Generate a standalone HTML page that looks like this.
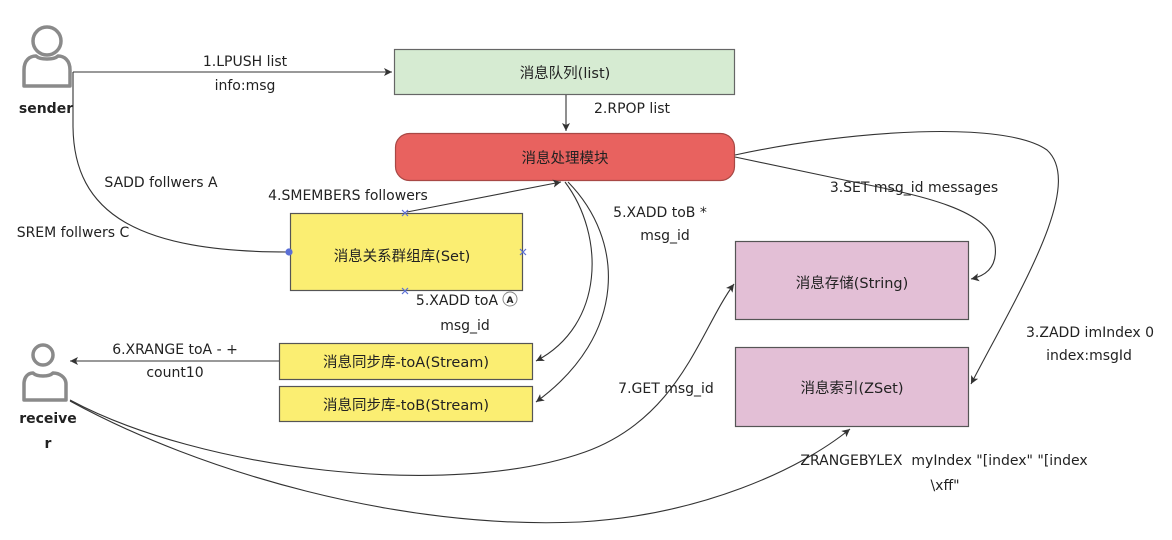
<!DOCTYPE html>
<html><head><meta charset="utf-8"><style>
html,body{margin:0;padding:0;background:#fff;}
svg{display:block;}
text{font-family:"DejaVu Sans","Noto Sans CJK SC",sans-serif;font-size:14px;fill:#222;}
.c{text-anchor:middle;}
.b{font-size:14.5px;}
</style></head><body>
<svg width="1172" height="540" viewBox="0 0 1172 540" xmlns="http://www.w3.org/2000/svg">
<defs>
<marker id="ar" markerWidth="10" markerHeight="10" refX="8" refY="4" orient="auto" markerUnits="userSpaceOnUse">
<path d="M0,0 L8,4 L0,8 L2,4 Z" fill="#333"/>
</marker>
</defs>
<rect x="0" y="0" width="1172" height="540" fill="#fff"/>

<!-- sender icon -->
<circle cx="47" cy="41" r="14" fill="#fff" stroke="#8a8a8a" stroke-width="3.5"/>
<path d="M24,86 L24,70 C24,60 30,56 36,56 C40,60 54,60 58,56 C64,56 70,60 70,70 L70,86 Z" fill="#fff" stroke="#8a8a8a" stroke-width="3.5" stroke-linejoin="round"/>
<text x="46" y="113" class="c" style="font-weight:bold;font-size:14px">sender</text>

<!-- receiver icon -->
<circle cx="43" cy="355" r="10" fill="#fff" stroke="#8a8a8a" stroke-width="3.5"/>
<path d="M24,400 L24,384 C24,377 28,373 33,373 C37,377 49,377 53,373 C59,373 66,377 66,384 L66,400 Z" fill="#fff" stroke="#8a8a8a" stroke-width="3.5" stroke-linejoin="round"/>
<text x="48" y="423" class="c" style="font-weight:bold;font-size:14px">receive</text>
<text x="48" y="448" class="c" style="font-weight:bold;font-size:14px">r</text>

<!-- boxes -->
<rect x="394.5" y="49.5" width="340" height="45" fill="#d6ebd2" stroke="#666" stroke-width="1.2"/>
<text x="565" y="78" class="c b">消息队列(list)</text>

<rect x="395.5" y="133.5" width="339" height="47" rx="14" ry="14" fill="#e8625f" stroke="#a84845" stroke-width="1.2"/>
<text x="565" y="163" class="c b">消息处理模块</text>

<rect x="290.5" y="213.5" width="232" height="77" fill="#fbee72" stroke="#555" stroke-width="1.2"/>
<text x="402" y="261" class="c b">消息关系群组库(Set)</text>

<rect x="279.5" y="343.5" width="253" height="36" fill="#fbee72" stroke="#555" stroke-width="1.2"/>
<text x="406" y="367" class="c b">消息同步库-toA(Stream)</text>
<rect x="279.5" y="386.5" width="253" height="35" fill="#fbee72" stroke="#555" stroke-width="1.2"/>
<text x="406" y="410" class="c b">消息同步库-toB(Stream)</text>

<rect x="735.5" y="241.5" width="233" height="78" fill="#e3bfd6" stroke="#555" stroke-width="1.2"/>
<text x="852" y="288" class="c b">消息存储(String)</text>
<rect x="735.5" y="347.5" width="233" height="79" fill="#e3bfd6" stroke="#555" stroke-width="1.2"/>
<text x="852" y="393" class="c b">消息索引(ZSet)</text>

<!-- connectors -->
<g fill="none" stroke="#333" stroke-width="1.1">
<path d="M73,72 L392,72" marker-end="url(#ar)"/>
<path d="M566,95 L566,131" marker-end="url(#ar)"/>
<path d="M73,72 L73,125 C73,215 140,252 288,252"/>
<path d="M407,212 L561,182" marker-end="url(#ar)"/>
<path d="M565,182 C605,235 605,325 536,361" marker-end="url(#ar)"/>
<path d="M568,182 C625,240 628,335 536,402" marker-end="url(#ar)"/>
<path d="M735,157 L830,177 C900,192 990,205 995,245 C998,268 985,276 971,279" marker-end="url(#ar)"/>
<path d="M735,155 C850,130 1005,120 1047,150 C1085,185 1020,290 971,384" marker-end="url(#ar)"/>
<path d="M279,361 L70,361" marker-end="url(#ar)"/>
<path d="M70,400 C200,470 450,500 585,452 C680,418 700,330 734,284" marker-end="url(#ar)"/>
<path d="M70,401 C200,472 400,530 580,522 C700,515 800,470 850,429" marker-end="url(#ar)"/>
</g>

<!-- small blue markers on set box -->
<g stroke="#5b6fd6" stroke-width="1.2" fill="none">
<path d="M402,210 l6,6 M408,210 l-6,6"/>
<path d="M402,288 l6,6 M408,288 l-6,6"/>
<path d="M520,249 l6,6 M526,249 l-6,6"/>
<circle cx="289" cy="252" r="3" fill="#5b6fd6"/>
</g>
<circle cx="510" cy="299" r="7" fill="#fff" stroke="#888" stroke-width="1"/>
<text x="510" y="303" class="c" style="font-size:9px;font-weight:bold">A</text>

<!-- labels -->
<text x="245" y="66" class="c">1.LPUSH list</text>
<text x="245" y="90" class="c">info:msg</text>
<text x="632" y="113" class="c">2.RPOP list</text>
<text x="161" y="187" class="c">SADD follwers A</text>
<text x="73" y="237" class="c">SREM follwers C</text>
<text x="348" y="200" class="c">4.SMEMBERS followers</text>
<text x="660" y="217" class="c">5.XADD toB *</text>
<text x="665" y="240" class="c">msg_id</text>
<text x="457" y="305" class="c">5.XADD toA</text>
<text x="465" y="330" class="c">msg_id</text>
<text x="914" y="192" class="c">3.SET msg_id messages</text>
<text x="1090" y="337" class="c">3.ZADD imIndex 0</text>
<text x="1089" y="360" class="c">index:msgId</text>
<text x="666" y="393" class="c">7.GET msg_id</text>
<text x="175" y="354" class="c">6.XRANGE toA - +</text>
<text x="175" y="377" class="c">count10</text>
<text x="944" y="465" class="c">ZRANGEBYLEX&#160;&#160;myIndex "[index" "[index</text>
<text x="945" y="490" class="c">\xff"</text>
</svg>
</body></html>
